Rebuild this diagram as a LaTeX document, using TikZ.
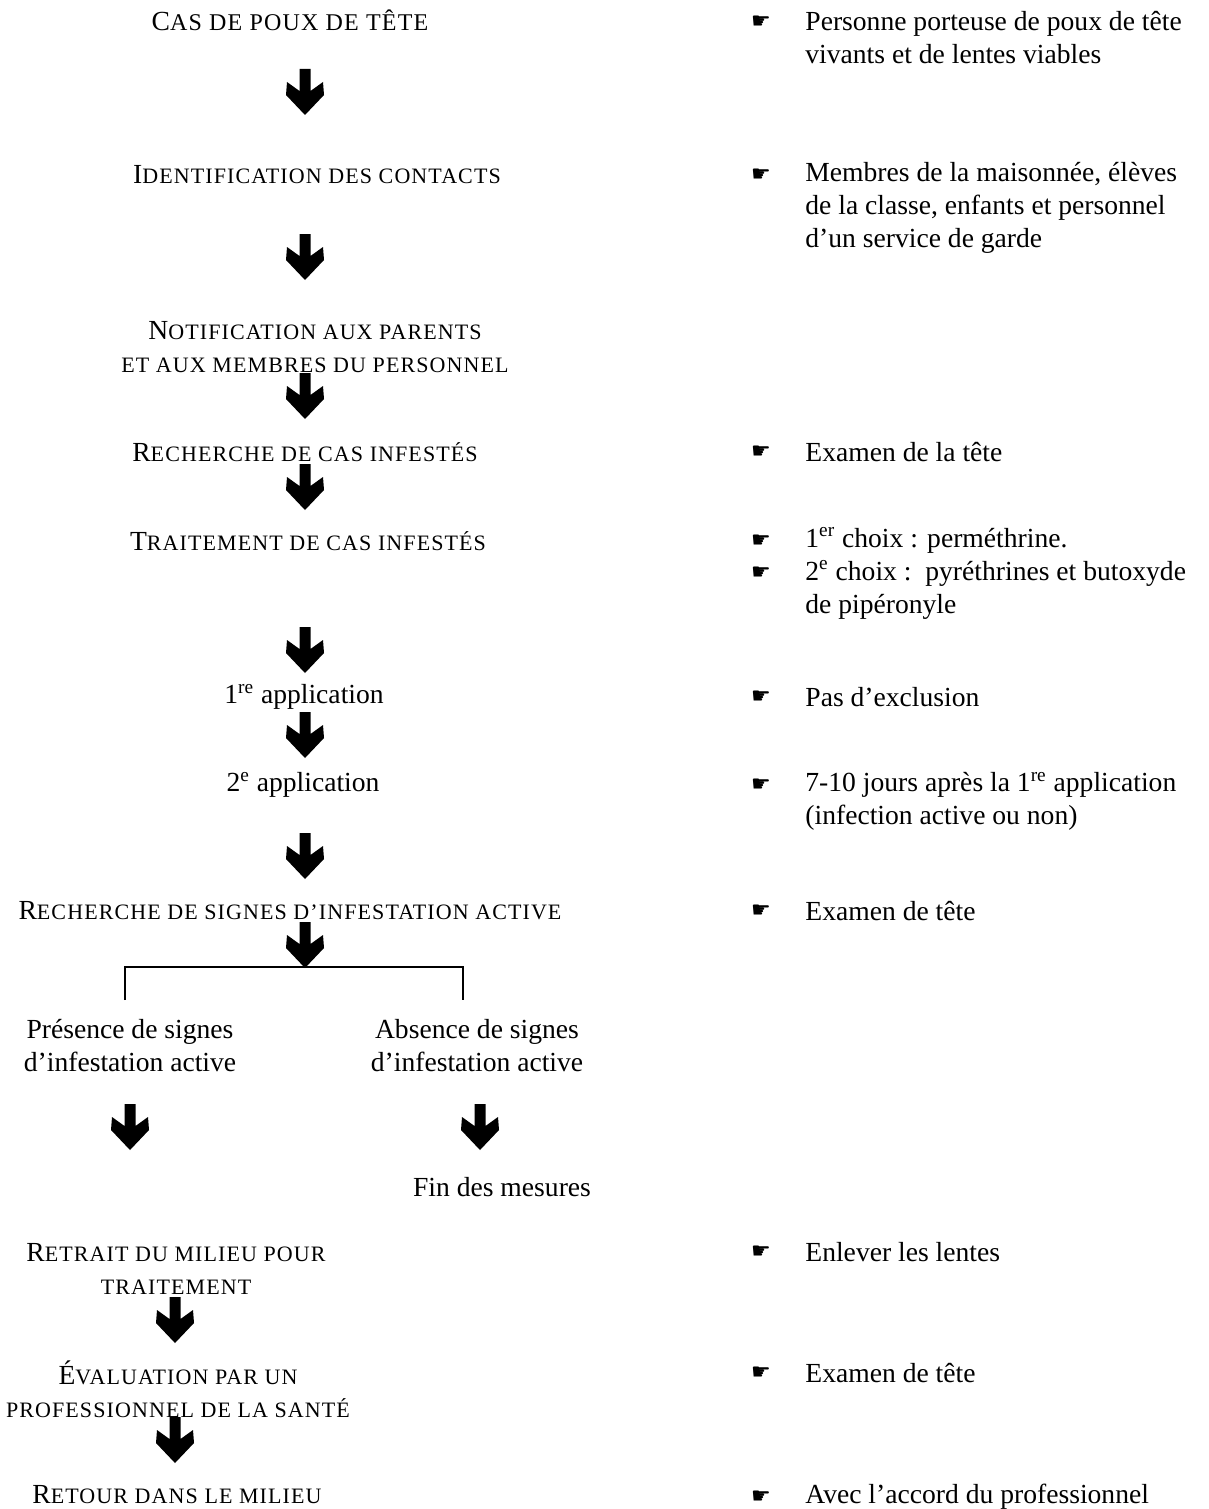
\documentclass[tikz,border=0pt]{standalone}
\usepackage{fontspec}
\setmainfont{Liberation Serif}
\newfontfamily\symfont{DejaVu Sans}
\newfontfamily\scfont[LetterSpace=5]{Liberation Serif}
\newcommand\smc[1]{{\scfont\fontsize{11}{16.5}\selectfont #1}}
\newcommand\smcb[1]{{\scfont\fontsize{12}{16.5}\selectfont #1}}
\begin{document}
\begin{tikzpicture}[x=0.5pt,y=-0.5pt,
  txt/.style={font=\fontsize{13.8}{16.5}\selectfont, inner sep=0pt, align=center},
  rtxt/.style={txt, anchor=west, align=left},
  hand/.style={font=\symfont\fontsize{11}{11}\selectfont, inner sep=0pt},
  bracket/.style={line width=0.75pt},
  downarr/.pic={\fill (-5.5,-23) -- (5.5,-23) -- (5.5,-1) -- (18,-10) -- (19,3) -- (0,23) -- (-19,3) -- (-18,-10) -- (-5.5,-1) -- cycle;}
]
\useasboundingbox (0,0) rectangle (1209,1509);

% left column
\node[txt] (cas) at (290,20) {C\smcb{AS DE POUX DE TÊTE}};
\node[txt] (ident) at (317,175) {I\smc{DENTIFICATION DES CONTACTS}};
\node[txt] (notif) at (315,347.5) {N\smc{OTIFICATION AUX PARENTS}\\\smc{ET AUX MEMBRES DU PERSONNEL}};
\node[txt] (rech) at (305,452) {R\smc{ECHERCHE DE CAS INFESTÉS}};
\node[txt] (trait) at (308,541) {T\smc{RAITEMENT DE CAS INFESTÉS}};
\node[txt] (app1) at (304,697) {1\textsuperscript{re} application};
\node[txt] (app2) at (303,785) {2\textsuperscript{e} application};
\node[txt] (signes) at (290,911) {R\smc{ECHERCHE DE SIGNES D’INFESTATION ACTIVE}};
\node[txt] (pres) at (130,1046) {Présence de signes\\d’infestation active};
\node[txt] (abs) at (477,1046) {Absence de signes\\d’infestation active};
\node[txt] (fin) at (502,1187) {Fin des mesures};
\node[txt] (retrait) at (176,1268.5) {R\smc{ETRAIT DU MILIEU POUR}\\\smc{TRAITEMENT}};
\node[txt] (eval) at (178,1389.5) {É\smc{VALUATION PAR UN}\\\smc{PROFESSIONNEL DE LA SANTÉ}};
\node[txt] (retour) at (177,1495) {R\smc{ETOUR DANS LE MILIEU}};

% arrows
\pic at (305,92) {downarr};
\pic at (305,257) {downarr};
\pic at (305,396) {downarr};
\pic at (305,487) {downarr};
\pic at (305,650) {downarr};
\pic at (305,735) {downarr};
\pic at (305,856) {downarr};
\pic at (305,945) {downarr};
\pic at (130,1127) {downarr};
\pic at (480,1127) {downarr};
\pic at (175,1320) {downarr};
\pic at (175,1440) {downarr};

% bracket
\coordinate (bl) at (125,1000);
\coordinate (tl) at (125,967);
\coordinate (tr) at (463,967);
\coordinate (br) at (463,1000);
\draw[bracket] (bl) -- (tl) -- (tr) -- (br);

% right column
\node[hand] (h1) at (761,22) {☛};
\node[rtxt] (r1) at (805,38) {Personne porteuse de poux de tête\\vivants et de lentes viables};
\node[hand] (h2) at (761,175) {☛};
\node[rtxt] (r2) at (805,208) {Membres de la maisonnée, élèves\\de la classe, enfants et personnel\\d’un service de garde};
\node[hand] (h3) at (761,452) {☛};
\node[rtxt] (r3) at (805,452) {Examen de la tête};
\node[hand] (h4) at (761,541) {☛};
\node[hand] (h5) at (761,573) {☛};
\node[rtxt] (r4) at (805,573.5) {1\textsuperscript{er} choix : perméthrine.\\2\textsuperscript{e} choix :\ \ pyréthrines et butoxyde\\de pipéronyle};
\node[hand] (h6) at (761,697) {☛};
\node[rtxt] (r5) at (805,697) {Pas d’exclusion};
\node[hand] (h7) at (761,785) {☛};
\node[rtxt] (r6) at (805,801.5) {7-10 jours après la 1\textsuperscript{re} application\\(infection active ou non)};
\node[hand] (h8) at (761,911) {☛};
\node[rtxt] (r7) at (805,911) {Examen de tête};
\node[hand] (h9) at (761,1252) {☛};
\node[rtxt] (r8) at (805,1252) {Enlever les lentes};
\node[hand] (h10) at (761,1373) {☛};
\node[rtxt] (r9) at (805,1373) {Examen de tête};
\node[hand] (h11) at (761,1497) {☛};
\node[rtxt] (r10) at (805,1497) {Avec l’accord du professionnel};
\end{tikzpicture}
\end{document}
